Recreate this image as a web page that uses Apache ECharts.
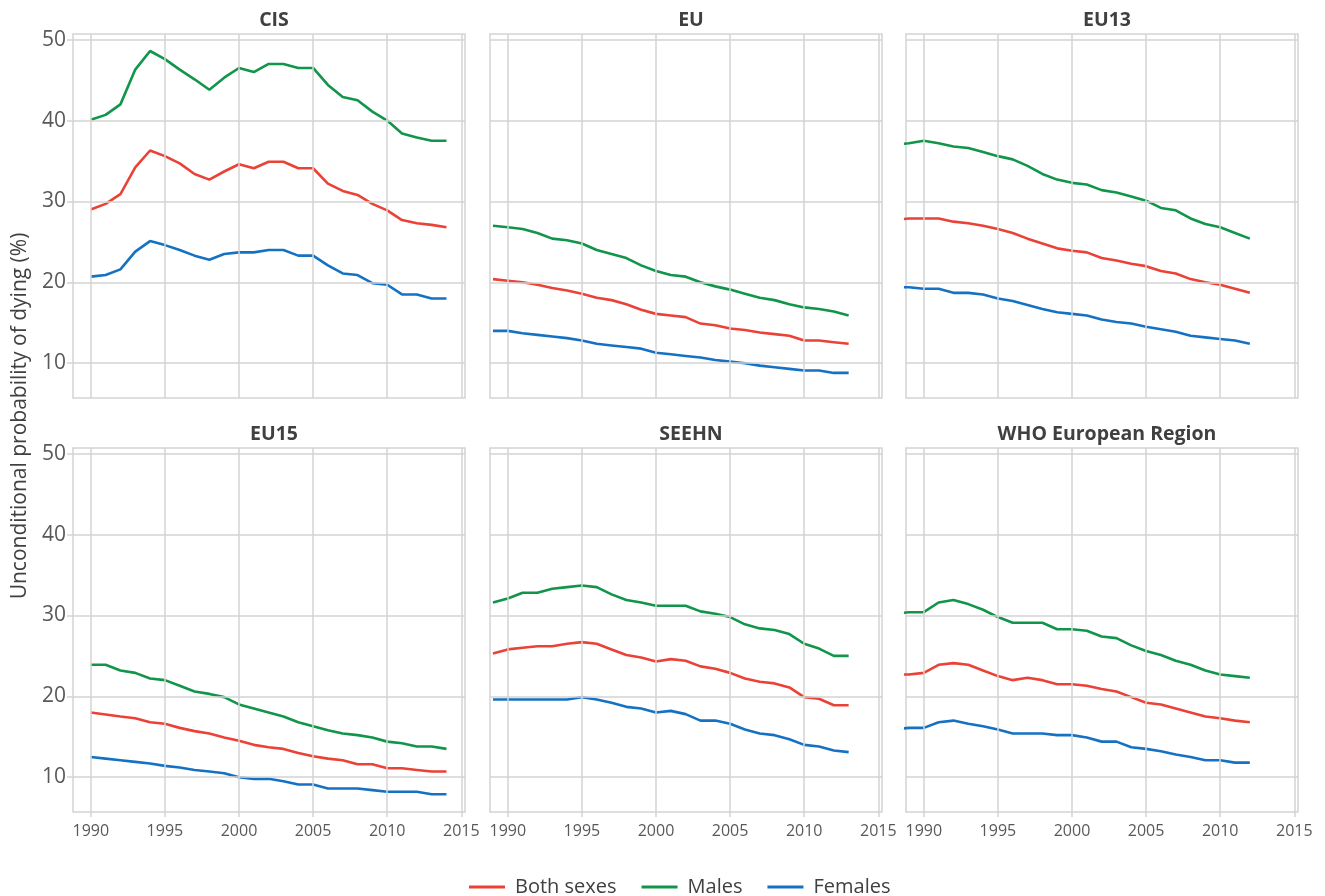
<!DOCTYPE html>
<html>
<head>
<meta charset="utf-8">
<script src="https://cdn.jsdelivr.net/npm/echarts@6/dist/echarts.min.js"></script>
<style>
html,body{margin:0;padding:0;background:#fff;}
#chart{width:1325px;height:896px;}
</style>
</head>
<body>
<div id="chart"></div>
<script>
// ---- data ----
const panelNames = ["CIS", "EU", "EU13", "EU15", "SEEHN", "WHO European Region"];
const startYears = [1990, 1989, 1988, 1990, 1989, 1988];
const seriesNames = ["Both sexes", "Males", "Females"];
const xTickLabels = ["1990", "1995", "2000", "2005", "2010", "2015"];
const yTickLabels = ["10", "20", "30", "40", "50"];

const cisBoth = [29.0,29.7,30.9,34.2,36.3,35.6,34.7,33.4,32.7,33.7,34.6,34.1,34.9,34.9,34.1,34.1,32.2,31.3,30.8,29.7,28.9,27.7,27.3,27.1,26.8];
const cisMales = [40.1,40.7,42.0,46.3,48.6,47.6,46.3,45.1,43.8,45.3,46.5,46.0,47.0,47.0,46.5,46.5,44.4,42.9,42.5,41.1,40.0,38.4,37.9,37.5,37.5];
const cisFemales = [20.7,20.9,21.6,23.8,25.1,24.6,24.0,23.3,22.8,23.5,23.7,23.7,24.0,24.0,23.3,23.3,22.1,21.1,20.9,19.9,19.7,18.5,18.5,18.0,18.0];

const euBoth = [20.4,20.2,20.0,19.7,19.3,19.0,18.6,18.1,17.8,17.3,16.6,16.1,15.9,15.7,14.9,14.7,14.3,14.1,13.8,13.6,13.4,12.8,12.8,12.6,12.4];
const euMales = [27.0,26.8,26.6,26.1,25.4,25.2,24.8,24.0,23.5,23.0,22.1,21.4,20.9,20.7,20.0,19.5,19.1,18.6,18.1,17.8,17.3,16.9,16.7,16.4,15.9];
const euFemales = [14.0,14.0,13.7,13.5,13.3,13.1,12.8,12.4,12.2,12.0,11.8,11.3,11.1,10.9,10.7,10.4,10.2,10.0,9.7,9.5,9.3,9.1,9.1,8.8,8.8];

const eu13Both = [27.7,27.9,27.9,27.9,27.5,27.3,27.0,26.6,26.1,25.4,24.8,24.2,23.9,23.7,23.0,22.7,22.3,22.0,21.4,21.1,20.4,20.0,19.7,19.2,18.7];
const eu13Males = [37.0,37.2,37.5,37.2,36.8,36.6,36.1,35.6,35.2,34.4,33.4,32.7,32.3,32.1,31.4,31.1,30.6,30.1,29.2,28.9,27.9,27.2,26.8,26.1,25.4];
const eu13Females = [19.4,19.4,19.2,19.2,18.7,18.7,18.5,18.0,17.7,17.2,16.7,16.3,16.1,15.9,15.4,15.1,14.9,14.5,14.2,13.9,13.4,13.2,13.0,12.8,12.4];

const eu15Both = [18.0,17.75,17.5,17.3,16.8,16.6,16.1,15.7,15.4,14.9,14.5,14.0,13.7,13.5,13.0,12.6,12.3,12.1,11.6,11.6,11.1,11.1,10.9,10.7,10.7];
const eu15Males = [23.9,23.9,23.2,22.9,22.2,22.0,21.3,20.6,20.3,19.9,19.0,18.5,18.0,17.5,16.8,16.3,15.8,15.4,15.2,14.9,14.4,14.2,13.8,13.8,13.5];
const eu15Females = [12.5,12.3,12.1,11.9,11.7,11.4,11.2,10.9,10.7,10.5,10.0,9.8,9.8,9.5,9.1,9.1,8.6,8.6,8.6,8.4,8.2,8.2,8.2,7.9,7.9];

const seehnBoth = [25.3,25.8,26.0,26.2,26.2,26.5,26.7,26.5,25.8,25.1,24.8,24.3,24.6,24.4,23.7,23.4,22.9,22.2,21.8,21.6,21.1,19.9,19.7,18.9,18.9];
const seehnMales = [31.6,32.1,32.8,32.8,33.3,33.5,33.7,33.5,32.6,31.9,31.6,31.2,31.2,31.2,30.5,30.2,29.8,28.9,28.4,28.2,27.7,26.5,25.9,25.0,25.0];
const seehnFemales = [19.6,19.6,19.6,19.6,19.6,19.6,19.9,19.6,19.2,18.7,18.5,18.0,18.2,17.8,17.0,17.0,16.6,15.9,15.4,15.2,14.7,14.0,13.8,13.3,13.1];

const whoBoth = [22.7,22.7,22.9,23.9,24.1,23.9,23.2,22.5,22.0,22.3,22.0,21.5,21.5,21.3,20.9,20.6,19.9,19.2,19.0,18.5,18.0,17.5,17.3,17.0,16.8];
const whoMales = [30.2,30.4,30.4,31.6,31.9,31.4,30.7,29.8,29.1,29.1,29.1,28.3,28.3,28.1,27.4,27.2,26.3,25.6,25.1,24.4,23.9,23.2,22.7,22.5,22.3];
const whoFemales = [15.9,16.1,16.1,16.8,17.0,16.6,16.3,15.9,15.4,15.4,15.4,15.2,15.2,14.9,14.4,14.4,13.7,13.5,13.2,12.8,12.5,12.1,12.1,11.8,11.8];

const panelData = [
  [cisBoth, cisMales, cisFemales],
  [euBoth, euMales, euFemales],
  [eu13Both, eu13Males, eu13Females],
  [eu15Both, eu15Males, eu15Females],
  [seehnBoth, seehnMales, seehnFemales],
  [whoBoth, whoMales, whoFemales]
];

// ---- layout / style ----
const colors = ["#EA4236", "#11954A", "#1572C2"];
const FONT = "Open Sans";
const colLeft = [73, 490, 906];
const colWidth = 392;
const rowTop = [34, 448];
const rowHeight = 364;
const gridColor = "#d3d3d3";

const grids = [], xAxes = [], yAxes = [], series = [], titles = [];
for (let p = 0; p < 6; p++) {
  const r = Math.floor(p / 3), c = p % 3;
  grids.push({
    left: colLeft[c], top: rowTop[r], width: colWidth, height: rowHeight,
    show: true, borderColor: gridColor, borderWidth: 1.5, containLabel: false
  });
  xAxes.push({
    type: 'value', gridIndex: p, min: 1988.8, max: 2015.25,
    axisLine: {show: false},
    axisTick: {show: r === 1, length: 5, lineStyle: {color: gridColor, width: 1.5},
      customValues: xTickLabels.map(Number)},
    axisLabel: {show: r === 1, color: '#595959', fontFamily: FONT, fontSize: 16, margin: 11,
      customValues: xTickLabels.map(Number),
      formatter: v => String(Math.round(v))},
    splitLine: {show: false}
  });
  yAxes.push({
    type: 'value', gridIndex: p, min: 5.7, max: 50.7,
    axisLine: {show: false},
    axisTick: {show: c === 0, length: 6, lineStyle: {color: gridColor, width: 1.5},
      customValues: yTickLabels.map(Number)},
    axisLabel: {show: c === 0, color: '#595959', fontFamily: FONT, fontSize: 21, margin: 7,
      customValues: yTickLabels.map(Number),
      formatter: v => String(Math.round(v))},
    splitLine: {show: false}
  });
  titles.push({
    text: panelNames[p],
    left: colLeft[c] + colWidth / 2, top: rowTop[r] - 29, textAlign: 'center',
    textStyle: {fontFamily: FONT, fontWeight: 'bold', fontSize: 19.5, color: '#404040'}
  });
  for (let s = 0; s < 3; s++) {
    const vals = panelData[p][s];
    series.push({
      name: seriesNames[s], type: 'line', xAxisIndex: p, yAxisIndex: p,
      data: vals.map((v, i) => [startYears[p] + i, v]),
      showSymbol: false, symbol: 'none', clip: false,
      lineStyle: {color: colors[s], width: 2.6},
      itemStyle: {color: colors[s]},
      emphasis: {disabled: true}, silent: true, z: 3
    });
  }
  series.push({
    type: 'line', xAxisIndex: p, yAxisIndex: p, data: [], silent: true, z: 1,
    markLine: {
      silent: true, symbol: 'none', label: {show: false},
      lineStyle: {color: gridColor, width: 1.5, type: 'solid'},
      data: xTickLabels.map(t => ({xAxis: Number(t)})).concat(yTickLabels.map(t => ({yAxis: Number(t)})))
    }
  });
}

const chart = echarts.init(document.getElementById('chart'), null, {renderer: 'canvas'});
chart.setOption({
  animation: false,
  backgroundColor: '#ffffff',
  title: titles,
  grid: grids,
  xAxis: xAxes,
  yAxis: yAxes,
  series: series,
  legend: {
    data: seriesNames.map((n, i) => ({name: n, icon: 'rect', itemStyle: {color: colors[i]}})),
    top: 872, left: 464,
    itemWidth: 36, itemHeight: 3, itemGap: 25,
    textStyle: {fontFamily: FONT, fontSize: 20, color: '#404040', padding: [0, 0, 0, 5]}
  },
  graphic: [{
    type: 'text', x: 20, y: 416, rotation: Math.PI / 2,
    style: {text: 'Unconditional probability of dying (%)', fontFamily: FONT, fontSize: 21,
      fill: '#404040', textAlign: 'center', textVerticalAlign: 'middle'}
  }]
});
</script>
</body>
</html>
